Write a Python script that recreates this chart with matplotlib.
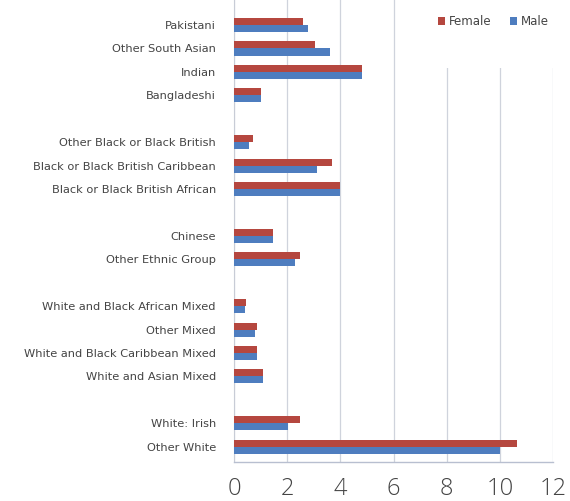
import matplotlib
matplotlib.use("Agg")
import matplotlib.pyplot as plt
from matplotlib.patches import Rectangle
import numpy as np

# Categories top-to-bottom (blank entries are spacer rows)
categories = [
    "Pakistani", "Other South Asian", "Indian", "Bangladeshi", "",
    "Other Black or Black British", "Black or Black British Caribbean",
    "Black or Black British African", "",
    "Chinese", "Other Ethnic Group", "",
    "White and Black African Mixed", "Other Mixed",
    "White and Black Caribbean Mixed", "White and Asian Mixed", "",
    "White: Irish", "Other White",
]
female = [2.6, 3.05, 4.8, 1.0, np.nan,
          0.7, 3.7, 4.0, np.nan,
          1.45, 2.48, np.nan,
          0.45, 0.88, 0.88, 1.08, np.nan,
          2.48, 10.65]
male = [2.78, 3.6, 4.8, 1.0, np.nan,
        0.55, 3.12, 4.0, np.nan,
        1.45, 2.3, np.nan,
        0.42, 0.8, 0.85, 1.08, np.nan,
        2.05, 10.0]
xticks = [0, 2, 4, 6, 8, 10, 12]
series_names = ["Female", "Male"]

fig = plt.figure(figsize=(5.7, 5.01), dpi=100)
ax = fig.add_axes([234/570, 1 - 461.5/501, (553-234)/570, 461.5/501])

n = len(categories)
y = np.arange(n)[::-1]  # top category highest
h = 0.3
ax.barh(y + h/2, female, height=h, color="#B5473F", label=series_names[0], zorder=3)
ax.barh(y - h/2, male, height=h, color="#4E7DBF", label=series_names[1], zorder=3)

ax.set_xlim(0, 12)
ax.set_ylim(-0.63, n - 1 + 1.07)
ax.set_yticks(y)
ax.set_yticklabels(categories, fontsize=8.2, color="#444444",
                   family=["Liberation Sans Narrow", "DejaVu Sans"])
ax.set_xticks(xticks)
ax.set_xticklabels([str(t) for t in xticks], fontsize=17, color="#444444",
                   family=["Open Sans", "DejaVu Sans"], fontweight="light")
ax.tick_params(axis="y", length=0, pad=13)
ax.tick_params(axis="x", length=0, pad=11)

ax.grid(axis="x", color="#cfd3dc", linewidth=0.9, zorder=0)
ax.set_axisbelow(True)
for s in ["top", "right"]:
    ax.spines[s].set_visible(False)
ax.spines["left"].set_color("#c8ccd6")
ax.spines["left"].set_linewidth(0.8)
ax.spines["bottom"].set_color("#b8bfd0")
ax.spines["bottom"].set_linewidth(1.0)

# white legend area covering gridlines (as in the reference)
ax.add_patch(Rectangle((420/570, 1 - 68/501), 150/570, 68/501,
                       transform=fig.transFigure, facecolor="white",
                       edgecolor="none", zorder=1, clip_on=False))

leg = fig.legend(loc="upper right", bbox_to_anchor=(0.99, 1.0), ncol=2,
                 frameon=True, handlelength=0.6, handleheight=0.6,
                 handletextpad=0.3, columnspacing=1.6, borderpad=0.8,
                 prop={"family": ["Liberation Sans Narrow", "DejaVu Sans"], "size": 8.5})
leg.get_frame().set_facecolor("white")
leg.get_frame().set_edgecolor("white")
leg.get_frame().set_alpha(1)
for t in leg.get_texts():
    t.set_color("#444444")

fig.savefig("out.png", dpi=100)
